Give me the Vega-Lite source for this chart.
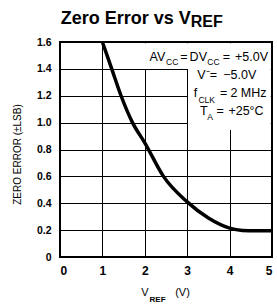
{
  "$schema": "https://vega.github.io/schema/vega-lite/v6.json",
  "width": 212,
  "height": 215,
  "autosize": {"type": "none"},
  "padding": {"left": 60, "top": 42, "right": 5, "bottom": 49},
  "background": "white",
  "config": {
    "view": {"stroke": "black", "strokeWidth": 2},
    "font": "Liberation Sans",
    "axis": {
      "grid": true, "gridColor": "black", "gridOpacity": 1, "gridWidth": 1,
      "domain": false, "ticks": false, "labelOverlap": false,
      "labelFont": "Liberation Sans", "labelFontWeight": "bold", "labelColor": "black",
      "titleColor": "black"
    }
  },
  "datasets": {
    "curve": [
      {"x": 1.0, "y": 1.6}, {"x": 1.22, "y": 1.4}, {"x": 1.44, "y": 1.2}, {"x": 1.71, "y": 1.0},
      {"x": 2.0, "y": 0.85}, {"x": 2.44, "y": 0.6}, {"x": 3.0, "y": 0.41}, {"x": 3.5, "y": 0.29},
      {"x": 4.0, "y": 0.215}, {"x": 4.3, "y": 0.198}, {"x": 4.6, "y": 0.195}, {"x": 5.0, "y": 0.195}
    ],
    "boxes": [
      {"x": 2.0, "x2": 4.97, "y": 1.40, "y2": 1.59},
      {"x": 3.02, "x2": 4.97, "y": 0.945, "y2": 1.41}
    ],
    "note": [
      {"x": 2.296, "y": 1.461, "t": "AV"},
      {"x": 2.925, "y": 1.461, "t": "="},
      {"x": 3.262, "y": 1.461, "t": "DV"},
      {"x": 3.922, "y": 1.461, "t": "="},
      {"x": 4.517, "y": 1.461, "t": "+5.0V"},
      {"x": 3.384, "y": 1.325, "t": "V\u207b"},
      {"x": 3.62, "y": 1.325, "t": "="},
      {"x": 4.24, "y": 1.325, "t": "\u22125.0V"},
      {"x": 3.196, "y": 1.188, "t": "f"},
      {"x": 3.86, "y": 1.188, "t": "="},
      {"x": 4.446, "y": 1.188, "t": "2 MHz"},
      {"x": 3.39, "y": 1.057, "t": "T"},
      {"x": 3.78, "y": 1.057, "t": "="},
      {"x": 4.387, "y": 1.057, "t": "+25\u00b0C"}
    ],
    "noteSub": [
      {"x": 2.645, "y": 1.432, "t": "CC"},
      {"x": 3.62, "y": 1.432, "t": "CC"},
      {"x": 3.46, "y": 1.144, "t": "CLK"},
      {"x": 3.54, "y": 1.019, "t": "A"}
    ],
    "axisTitle": [
      {"x": 2.005, "y": -0.29, "t": "V"},
      {"x": 2.89, "y": -0.29, "t": "(V)"}
    ],
    "axisTitleSub": [
      {"x": 2.30, "y": -0.335, "t": "REF"}
    ],
    "title": [{"x": 3.083, "y": 1.734, "t": "Zero Error vs V"}],
    "titleSub": [{"x": 3.083, "y": 1.709, "t": "REF"}]
  },
  "encoding": {
    "x": {"field": "x", "type": "quantitative", "scale": {"domain": [0, 5], "nice": false, "zero": false},
      "axis": {"values": [0, 1, 2, 3, 4, 5], "title": null, "labelFontSize": 12, "labelPadding": 8, "format": "d"}},
    "y": {"field": "y", "type": "quantitative", "scale": {"domain": [0, 1.6], "nice": false, "zero": false},
      "axis": {"values": [0, 0.2, 0.4, 0.6, 0.8, 1.0, 1.2, 1.4, 1.6], "labelFontSize": 10.5, "labelPadding": 9,
        "labelExpr": "datum.value == 0 ? '0' : format(datum.value, '.1f')",
        "title": "ZERO ERROR (\u00b1LSB)", "titleFontSize": 10, "titleFontWeight": "normal",
        "titlePadding": 14, "titleY": 112}}
  },
  "layer": [
    {
      "data": {"name": "boxes"},
      "mark": {"type": "rect", "fill": "white"},
      "encoding": {
        "x2": {"field": "x2"},
        "y2": {"field": "y2"}
      }
    },
    {
      "data": {"name": "curve"},
      "mark": {"type": "line", "color": "black", "strokeWidth": 3.5, "interpolate": "monotone"}
    },
    {
      "data": {"name": "note"},
      "mark": {"type": "text", "align": "center", "baseline": "alphabetic", "fontSize": 12.5, "font": "Liberation Sans", "color": "black"},
      "encoding": {"text": {"field": "t"}}
    },
    {
      "data": {"name": "noteSub"},
      "mark": {"type": "text", "align": "center", "baseline": "alphabetic", "fontSize": 8.5, "font": "Liberation Sans", "color": "black"},
      "encoding": {"text": {"field": "t"}}
    },
    {
      "data": {"name": "axisTitle"},
      "mark": {"type": "text", "align": "center", "baseline": "alphabetic", "fontSize": 11, "font": "Liberation Sans", "color": "black"},
      "encoding": {"text": {"field": "t"}}
    },
    {
      "data": {"name": "axisTitleSub"},
      "mark": {"type": "text", "align": "center", "baseline": "alphabetic", "fontSize": 8, "fontWeight": "bold", "font": "Liberation Sans", "color": "black"},
      "encoding": {"text": {"field": "t"}}
    },
    {
      "data": {"name": "title"},
      "mark": {"type": "text", "align": "right", "baseline": "alphabetic", "fontSize": 18, "fontWeight": "bold", "font": "Liberation Sans", "color": "black"},
      "encoding": {"text": {"field": "t"}}
    },
    {
      "data": {"name": "titleSub"},
      "mark": {"type": "text", "align": "left", "baseline": "alphabetic", "fontSize": 16, "fontWeight": "bold", "font": "Liberation Sans", "color": "black"},
      "encoding": {"text": {"field": "t"}}
    }
  ]
}
